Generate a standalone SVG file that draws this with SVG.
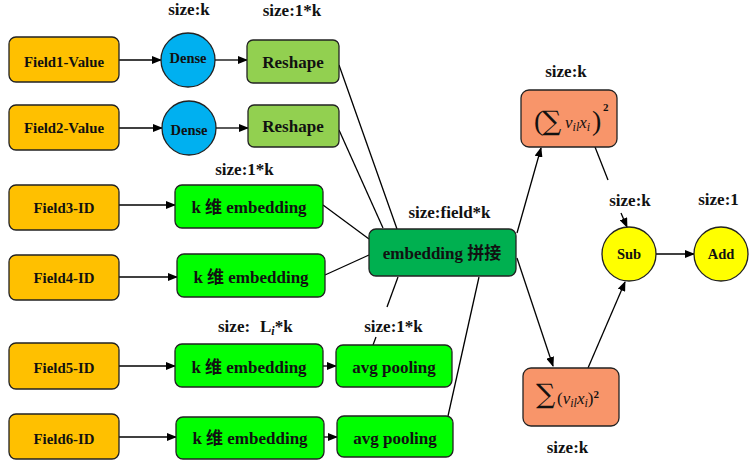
<svg xmlns="http://www.w3.org/2000/svg" width="755" height="472" viewBox="0 0 755 472">
<defs>
<marker id="ah" markerWidth="10" markerHeight="8" refX="9" refY="4" orient="auto" markerUnits="userSpaceOnUse">
<path d="M0,0 L10,4 L0,8 Z" fill="#000"/>
</marker>
<style>
.box{stroke:#222;stroke-width:1.3}
.field{fill:#FFC000}
.dense{fill:#00B0F0}
.resh{fill:#92D050}
.emb{fill:#00FF00}
.cat{fill:#00B050}
.sq{fill:#F8956A}
.yel{fill:#FFFF00}
text{font-family:'Liberation Serif','Times New Roman','DejaVu Serif','Noto Sans CJK SC',serif;font-weight:bold;fill:#111;text-anchor:middle}
.t13{font-size:14.8px}
.t15{font-size:17px}
.t12{font-size:14.5px}
.lbl{font-size:17px}
.ln{stroke:#000;stroke-width:1.3;fill:none}
.ar{marker-end:url(#ah)}
.m{font-weight:normal;text-anchor:start}
.i{font-style:italic}
.sig{font-family:'DejaVu Serif',serif;font-weight:normal;text-anchor:start}
</style>
</defs>
<rect width="755" height="472" fill="#fff"/>

<g id="connectors">
<line class="ln ar" x1="119" y1="60" x2="161" y2="60"/>
<line class="ln ar" x1="215" y1="60" x2="247" y2="60"/>
<line class="ln ar" x1="119" y1="128" x2="162" y2="128"/>
<line class="ln ar" x1="216" y1="128" x2="248" y2="128"/>
<line class="ln ar" x1="119" y1="205" x2="175" y2="205"/>
<line class="ln ar" x1="119" y1="277" x2="177" y2="277"/>
<line class="ln ar" x1="119" y1="366" x2="175" y2="366"/>
<line class="ln ar" x1="119" y1="437" x2="176" y2="437"/>
<line class="ln ar" x1="323" y1="366" x2="336" y2="366"/>
<line class="ln ar" x1="324" y1="437" x2="337" y2="437"/>
<line class="ln" x1="339" y1="65" x2="397" y2="229"/>
<line class="ln" x1="339" y1="130" x2="383" y2="228"/>
<line class="ln" x1="323" y1="205" x2="369" y2="239"/>
<line class="ln" x1="325" y1="275" x2="369" y2="255"/>
<line class="ln" x1="373" y1="345" x2="376" y2="337"/>
<line class="ln" x1="387" y1="307" x2="398" y2="277"/>
<line class="ln" x1="448" y1="416" x2="479" y2="277"/>
<line class="ln ar" x1="517" y1="233" x2="541" y2="148"/>
<line class="ln ar" x1="517" y1="258" x2="553" y2="366"/>
<line class="ln" x1="595" y1="147" x2="608" y2="180"/>
<line class="ln ar" x1="621" y1="213" x2="627" y2="227"/>
<line class="ln ar" x1="588" y1="368" x2="625" y2="282"/>
<line class="ln ar" x1="656" y1="254" x2="694" y2="254"/>
</g>

<g id="field1"><rect class="box field" x="9" y="37" width="110" height="45" rx="7"/><text class="t13" x="64" y="67">Field1-Value</text></g>
<g id="field2"><rect class="box field" x="9" y="105" width="110" height="45" rx="7"/><text class="t13" x="64" y="133">Field2-Value</text></g>
<g id="field3"><rect class="box field" x="9" y="185" width="110" height="45" rx="7"/><text class="t13" x="64" y="213">Field3-ID</text></g>
<g id="field4"><rect class="box field" x="9" y="255" width="110" height="45" rx="7"/><text class="t13" x="64" y="283">Field4-ID</text></g>
<g id="field5"><rect class="box field" x="9" y="343" width="110" height="46" rx="7"/><text class="t13" x="64" y="373">Field5-ID</text></g>
<g id="field6"><rect class="box field" x="9" y="414" width="110" height="45" rx="7"/><text class="t13" x="64" y="444">Field6-ID</text></g>

<g id="dense1"><circle class="box dense" cx="188" cy="60" r="27"/><text class="t12" x="188" y="63">Dense</text></g>
<g id="dense2"><circle class="box dense" cx="189" cy="128" r="27"/><text class="t12" x="189" y="135">Dense</text></g>

<g id="reshape1"><rect class="box resh" x="247" y="40" width="92" height="43" rx="6"/><text class="t15" x="293" y="68">Reshape</text></g>
<g id="reshape2"><rect class="box resh" x="248" y="105" width="91" height="42" rx="6"/><text class="t15" x="293" y="132">Reshape</text></g>

<g id="emb3"><rect class="box emb" x="175" y="185" width="148" height="43" rx="7"/><text class="t15" x="249" y="213">k 维 embedding</text></g>
<g id="emb4"><rect class="box emb" x="177" y="254" width="148" height="43" rx="7"/><text class="t15" x="251" y="283">k 维 embedding</text></g>
<g id="emb5"><rect class="box emb" x="175" y="344" width="148" height="43" rx="7"/><text class="t15" x="249" y="373">k 维 embedding</text></g>
<g id="emb6"><rect class="box emb" x="176" y="417" width="148" height="42" rx="7"/><text class="t15" x="250" y="444">k 维 embedding</text></g>

<g id="avg1"><rect class="box emb" x="336" y="345" width="116" height="42" rx="7"/><text class="t15" x="394" y="373">avg pooling</text></g>
<g id="avg2"><rect class="box emb" x="337" y="416" width="116" height="41" rx="7"/><text class="t15" x="395" y="444">avg pooling</text></g>

<g id="concat"><rect class="box cat" x="369" y="229" width="147" height="47" rx="7"/><text class="t15" x="442" y="259">embedding 拼接</text></g>

<g id="sqsum"><rect class="box sq" x="521" y="90" width="96" height="57" rx="8"/>
<text class="m" x="534" y="130" font-size="28">(</text>
<text class="sig" x="542" y="130" font-size="27">∑</text>
<text class="m i" x="565" y="128" font-size="17">v<tspan font-size="12" dy="3">il</tspan><tspan dy="-3">x</tspan><tspan font-size="12" dy="3">i</tspan></text>
<text class="m" x="592" y="130" font-size="28">)</text>
<text class="m" x="603" y="111" font-size="11" style="font-weight:bold">2</text>
</g>

<g id="sumsq"><rect class="box sq" x="523" y="368" width="96" height="58" rx="8"/>
<text class="sig" x="536" y="403" font-size="27">∑</text>
<text class="m" x="557" y="404" font-size="17">(<tspan class="i">v</tspan><tspan class="i" font-size="12" dy="3">il</tspan><tspan class="i" dy="-3">x</tspan><tspan class="i" font-size="12" dy="3">i</tspan><tspan dy="-3">)</tspan><tspan font-size="11" dy="-6" style="font-weight:bold">2</tspan></text>
</g>

<g id="sub"><circle class="box yel" cx="629" cy="254" r="27"/><text class="t12" x="629" y="259">Sub</text></g>
<g id="add"><circle class="box yel" cx="721" cy="254" r="27"/><text class="t12" x="721" y="259">Add</text></g>

<g id="labels">
<text class="lbl" x="189" y="15">size:k</text>
<text class="lbl" x="292" y="16">size:1*k</text>
<text class="lbl" x="244.5" y="175">size:1*k</text>
<text class="lbl" x="218" y="332" style="text-anchor:start">size:<tspan x="260">L</tspan><tspan class="i" font-size="12" dy="3">i</tspan><tspan dy="-3">*k</tspan></text>
<text class="lbl" x="393.5" y="332">size:1*k</text>
<text class="lbl" x="449.5" y="218">size:field*k</text>
<text class="lbl" x="566" y="77">size:k</text>
<text class="lbl" x="630" y="206">size:k</text>
<text class="lbl" x="718.5" y="205">size:1</text>
<text class="lbl" x="567.5" y="453">size:k</text>
</g>
</svg>
